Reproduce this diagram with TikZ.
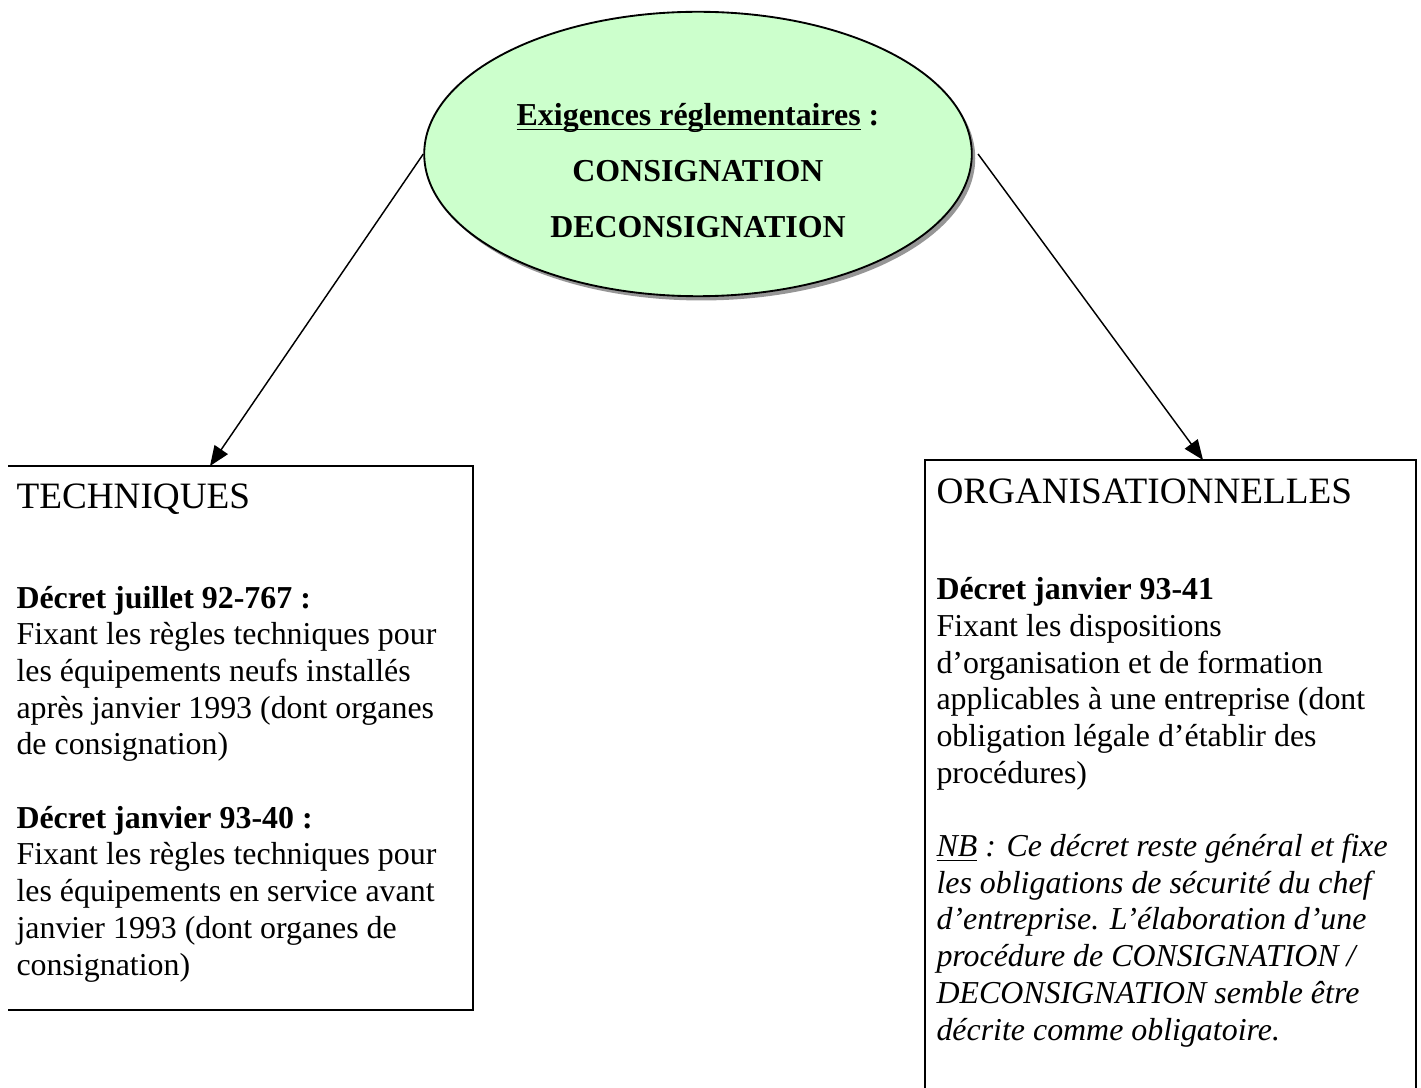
\documentclass[tikz,border=0pt]{standalone}
\usepackage{fontspec}
\setmainfont{Liberation Serif}
\usepackage{tikz}
\usetikzlibrary{arrows.meta,shapes.geometric,shadows}
\definecolor{ellgreen}{RGB}{204,255,204}
\definecolor{shadowgray}{RGB}{150,150,150}
\newcommand{\ulword}[1]{\underline{\smash{#1}}}

\begin{document}
\begin{tikzpicture}[x=0.3762pt, y=-0.3762pt, >={Triangle[length=7.5pt,width=6pt]},
    boxline/.style={line width=0.7pt},
    headtext/.style={font=\fontsize{14pt}{16pt}\selectfont, inner sep=0pt, anchor=base west},
    bodytext/.style={font=\fontsize{12pt}{13.8pt}\selectfont, align=left, inner sep=0pt, anchor=base west}]
    \useasboundingbox (0,0) rectangle (1421,1088);

    % Central ellipse
    \node[ellipse, draw, line width=0.7pt, fill=ellgreen, minimum width=206pt, minimum height=107pt,
          drop shadow={fill=shadowgray, opacity=1, shadow xshift=1.3pt, shadow yshift=-1.6pt}] (ell) at (698,154) {};
    \node[font=\fontsize{12pt}{21pt}\selectfont\bfseries, align=center] (elltitle) at (698,174)
        {\ulword{Exigences réglementaires} :\\ CONSIGNATION\\ DECONSIGNATION};

    % Boxes
    \coordinate (technw) at (8,466);
    \coordinate (techse) at (473,1010);
    \draw[boxline] (technw) -- (technw -| techse) -- (techse) -- (techse -| technw);
    \coordinate (orgnw) at (925,460);
    \coordinate (orgse) at (1416,1088);
    \draw[boxline] (orgse -| orgnw) -- (orgnw) -- (orgnw -| orgse) -- (orgse);

    % Arrows
    \coordinate (techin) at (210,466);
    \coordinate (orgin) at (1203,460);
    \draw[->, line width=0.55pt] (ell.west) -- (techin);
    \draw[->, line width=0.55pt] ([xshift=2pt]ell.east) -- (orgin);

    % Box texts (base = last line)
    \node[headtext] (techhead) at (16,508) {TECHNIQUES};
    \node[bodytext] (techbody) at (16,975) {\textbf{Décret juillet 92-767 :}\\
        Fixant les règles techniques pour\\
        les équipements neufs installés\\
        après janvier 1993 (dont organes\\
        de consignation)\\[13.8pt]
        \textbf{Décret janvier 93-40 :}\\
        Fixant les règles techniques pour\\
        les équipements en service avant\\
        janvier 1993 (dont organes de\\
        consignation)};
    \node[headtext] (orghead) at (936,503) {ORGANISATIONNELLES};
    \node[bodytext] (orgbody) at (936,1040) {\textbf{Décret janvier 93-41}\\
        Fixant les dispositions\\
        d’organisation et de formation\\
        applicables à une entreprise (dont\\
        obligation légale d’établir des\\
        procédures)\\[13.8pt]
        \textit{\ulword{NB} : Ce décret reste général et fixe}\\
        \textit{les obligations de sécurité du chef}\\
        \textit{d’entreprise. L’élaboration d’une}\\
        \textit{procédure de CONSIGNATION /}\\
        \textit{DECONSIGNATION semble être}\\
        \textit{décrite comme obligatoire.}};
\end{tikzpicture}
\end{document}
